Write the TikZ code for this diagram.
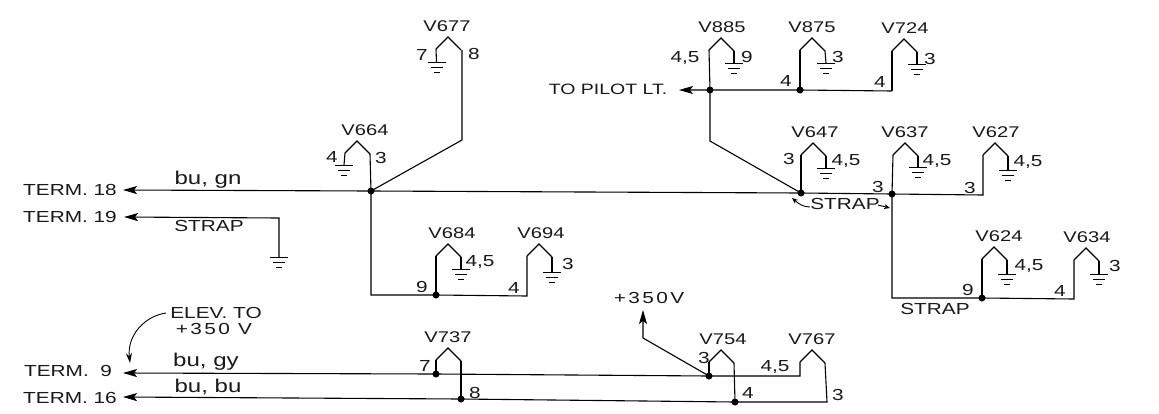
\documentclass[tikz,border=0pt]{standalone}
\usepackage{fontspec}
\setmainfont[FakeStretch=1.3]{Liberation Sans}
\usetikzlibrary{arrows.meta}
\tikzset{
  x=1pt,y=-1pt,
  wire/.style={line width=1.1pt,line join=miter},
  feed/.style={wire,-{Stealth[length=14pt,width=8pt,inset=3pt]}},
  lbl/.style={font=\fontsize{16}{17}\selectfont,inner sep=0pt,text=black!90},
  tubelbl/.style={lbl,font=\fontsize{15.5}{17}\selectfont},
  lowlbl/.style={lbl,font=\fontsize{18.5}{19}\selectfont},
  widelbl/.style={lbl,font=\fontsize{16}{17}\selectfont\addfontfeature{LetterSpace=15}},
  dot/.style={circle,fill=black,inner sep=0pt,minimum size=7pt},
  gbar/.style={line width=1pt},
}
% tube: name, apex x, apex y, label x, label y
\newcommand{\tubesym}[5]{%
  \coordinate (a#1) at (#2,#3);
  \coordinate (l#1) at (#2-12,#3+12);
  \coordinate (r#1) at (#2+13,#3+13);
  \draw[wire] (l#1) -- (a#1) -- (r#1);
  \node[tubelbl] (t#1) at (#4,#5) {V#1};
}
% ground symbol: name, x, y of top bar
\newcommand{\gndsym}[3]{%
  \coordinate (g#1) at (#2,#3);
  \draw[gbar] (g#1) ++(-9,0) -- ++(18,0);
  \draw[gbar] (g#1) ++(-6,5) -- ++(12,0);
  \draw[gbar] (g#1) ++(-3,10) -- ++(6,0);
}
\begin{document}
\begin{tikzpicture}
\useasboundingbox (0,0) rectangle (1159,413);
\fill[white] (0,0) rectangle (1159,413);

% Tubes
\tubesym{677}{448}{37}{447}{26}
\tubesym{664}{357}{141}{365}{130}
\tubesym{684}{448}{244}{452}{233}
\tubesym{694}{539}{244}{541}{233}
\tubesym{885}{721}{38}{722}{27}
\tubesym{875}{812}{38}{812}{27}
\tubesym{724}{904}{39}{905}{28}
\tubesym{647}{813}{143}{815}{132}
\tubesym{637}{905}{143}{905}{132}
\tubesym{627}{995}{143}{996}{132}
\tubesym{624}{994}{247}{999}{236}
\tubesym{634}{1086}{248}{1087}{237}
\tubesym{737}{448}{348}{448}{337}
\tubesym{754}{721}{350}{723}{339}
\tubesym{767}{812}{350}{812}{339}

% Grounds
\gndsym{677}{436.5}{62}
\gndsym{664}{344}{165}
\gndsym{885}{734}{63}
\gndsym{875}{826}{63}
\gndsym{724}{917}{64}
\gndsym{647}{826}{168}
\gndsym{637}{918}{167}
\gndsym{627}{1008}{170}
\gndsym{624}{1007}{274}
\gndsym{634}{1099}{274}
\gndsym{684}{461}{269}
\gndsym{694}{552}{272}
\gndsym{s}{279}{257}

\foreach \n in {677,664}{ \draw[wire] (l\n) -- (g\n); }
\foreach \n in {885,875,724,647,637,627,624,634,684,694}{ \draw[wire] (r\n) -- (g\n); }

% Junctions
\node[dot] (j1) at (371,191) {};
\node[dot] (j2) at (801,193) {};
\node[dot] (j3) at (892,194) {};
\node[dot] (j4) at (710,90) {};
\node[dot] (j5) at (800,90) {};
\node[dot] (j6) at (436,295) {};
\node[dot] (j7) at (982,298) {};
\node[dot] (j8) at (436,374) {};
\node[dot] (j9) at (461,399) {};
\node[dot] (j10) at (709,376) {};
\node[dot] (j11) at (735,402) {};

% Terminals
\coordinate (e18) at (123,190);
\coordinate (e19) at (124,217);
\coordinate (e9) at (123,373);
\coordinate (e16) at (123,397);
\coordinate (ept) at (679,90);
\coordinate (e350) at (643,310);

% Wires
\draw[wire] (j1.center) -- (r664);
\draw[wire] (j1.center) -- (462,140) -- (462,50);
\draw[feed] (j2.center) -- (j1.center) -- (e18);
\draw[wire] (j2.center) -- (j3.center) -- (983,195) -- (l627);
\draw[wire] (l647) -- (j2.center);
\draw[wire] (l637) -- (j3.center);
\draw[wire] (j3.center) -- (892,298) -- (j7.center) -- (1074,299) -- (l634);
\draw[wire] (l624) -- (j7.center);
\draw[wire] (j1.center) -- (371,295) -- (j6.center) -- (527,296) -- (l694);
\draw[wire] (l684) -- (j6.center);
\draw[feed] (279,257) -- (279,218) -- (e19);
\draw[wire] (l885) -- (j4.center);
\draw[feed] (892,91) -- (j5.center) -- (j4.center) -- (ept);
\draw[wire] (l724) -- (892,91);
\draw[wire] (l875) -- (j5.center);
\draw[wire] (j4.center) -- (710,141) -- (j2.center);
\draw[wire] (l737) -- (j8.center);
\draw[wire] (r737) -- (j9.center);
\draw[feed] (l767) -- (800,376) -- (j10.center) -- (j8.center) -- (e9);
\draw[feed] (r767) -- (827,402) -- (j11.center) -- (j9.center) -- (e16);
\draw[wire] (l754) -- (j10.center);
\draw[wire] (r754) -- (j11.center);
\draw[feed] (j10.center) -- (643,338) -- (e350);

% Small arrows
\coordinate (c1) at (166,313);
\coordinate (c2) at (130,363);
\draw[line width=0.9pt,-{Stealth[length=10pt,width=6pt]}] (c1) .. controls (145,316) and (127,335) .. (c2);
\coordinate (s1) at (810,207);
\coordinate (s2) at (792,198);
\coordinate (s3) at (878,205);
\coordinate (s4) at (890,208);
\draw[line width=0.9pt,-{Stealth[length=6pt,width=5pt]}] (s1) .. controls (803,207) and (799,204) .. (s2);
\draw[line width=0.9pt,-{Stealth[length=6pt,width=5pt]}] (s3) -- (s4);

% Text
\node[lbl] (n1) at (70,190) {TERM. 18};
\node[lbl] (n2) at (70,217) {TERM. 19};
\node[lbl] (n3) at (68,371) {TERM.\ \ 9};
\node[lbl] (n4) at (70,398) {TERM. 16};
\node[lowlbl] (n5) at (208,180) {bu, gn};
\node[lbl] (n6) at (209,226) {STRAP};
\node[lowlbl] (n7) at (206,362) {bu, gy};
\node[lowlbl] (n8) at (208,387) {bu, bu};
\node[lbl] (n9) at (216,313) {ELEV. TO};
\node[widelbl] (n10) at (214,329) {+350 V};
\node[widelbl] (n11) at (649,298) {+350V};
\node[lbl,font=\fontsize{15}{16}\selectfont] (n12) at (608,89) {TO PILOT LT.};
\node[lbl] (n13) at (845,204) {STRAP};
\node[lbl] (n14) at (935,309) {STRAP};
\foreach \x/\y/\t in {
 422/55/7, 474/54/8, 332/157/4, 381/158/3,
 685/58/{4,5}, 747/57/9, 786/81/4, 838/57/3, 880/82/4, 930/59/3,
 789/159/3, 846/161/{4,5}, 878/187/3, 937/161/{4,5}, 970/188/3, 1028/162/{4,5},
 968/290/9, 1029/266/{4,5}, 1060/291/4, 1115/266/3,
 422/287/9, 514/288/4, 480/262/{4,5}, 568/264/3,
 425/366/7, 475/393/8, 704/358/3, 775/367/{4,5}, 748/393/4, 838/395/3}{
  \node[lbl] at (\x,\y) {\t};
}
\end{tikzpicture}
\end{document}
